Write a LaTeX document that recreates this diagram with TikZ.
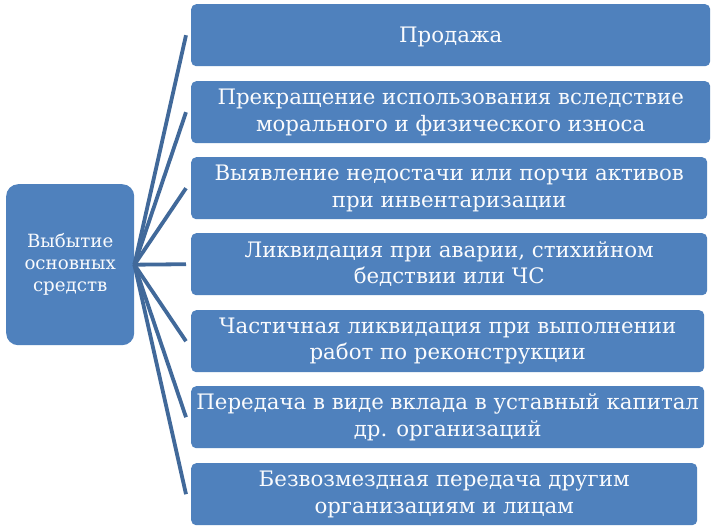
\documentclass[tikz,border=0pt]{standalone}
\usepackage{fontspec}
\setmainfont{DejaVu Serif}
\definecolor{boxblue}{HTML}{4F81BD}
\definecolor{lineblue}{HTML}{41699A}
\definecolor{txt}{HTML}{FAFBFD}
\begin{document}
\begin{tikzpicture}[x=1pt,y=-1pt,
  rbox/.style={fill=boxblue, draw=none, rounded corners=5pt, anchor=north west,
    minimum height=62pt, inner sep=0pt, text=txt, align=center,
    font=\fontsize{21.3}{26.5}\selectfont,
    execute at begin node={\rule{0pt}{19.5pt}}},
  lbox/.style={fill=boxblue, draw=none, rounded corners=12pt, anchor=north west,
    minimum width=128pt, minimum height=161pt, inner sep=0pt, text=txt, align=center,
    font=\fontsize{18.2}{22}\selectfont,
    execute at begin node={\rule{0pt}{16pt}}},
  conn/.style={draw=lineblue, line width=3.8pt}]
\useasboundingbox (0,0) rectangle (716,531);
\fill[white] (0,0) rectangle (716,531);
\node[lbox] (L) at (6,184) {Выбытие\\основных\\средств};
\node[rbox, minimum width=519pt] (b1) at (191,4) {Продажа};
\node[rbox, minimum width=519pt] (b2) at (191,81) {Прекращение использования вследствие\\морального и физического износа};
\node[rbox, minimum width=516pt] (b3) at (191,157) {Выявление недостачи или порчи активов\\при инвентаризации};
\node[rbox, minimum width=516pt] (b4) at (191,233) {Ликвидация при аварии, стихийном\\бедствии или ЧС};
\node[rbox, minimum width=513pt] (b5) at (191,310) {Частичная ликвидация при выполнении\\работ по реконструкции};
\node[rbox, minimum width=513pt] (b6) at (191,386) {Передача в виде вклада в уставный капитал\\др. организаций};
\node[rbox, minimum width=506pt] (b7) at (191,463) {Безвозмездная передача другим\\организациям и лицам};
\foreach \i in {1,...,7}{
  \draw[conn] (L.east) -- ([xshift=-5pt]b\i.west);
}
\end{tikzpicture}
\end{document}
